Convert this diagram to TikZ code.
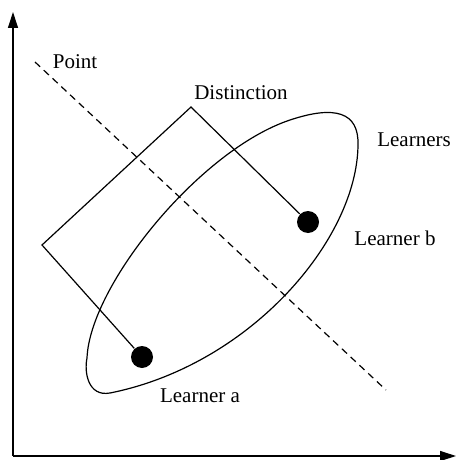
\documentclass[tikz,border=0pt]{standalone}
\usepackage{fontspec}
\setmainfont{Liberation Serif}
\usetikzlibrary{arrows.meta}

\begin{document}
\begin{tikzpicture}[x=0.5pt,y=-0.5pt,>={Triangle[length=8pt,width=5pt]},line width=0.6pt,
  lbl/.style={font=\fontsize{10.5}{12}\selectfont,inner sep=0pt},
  dot/.style={circle,fill,inner sep=0pt,minimum size=11pt}]
\useasboundingbox (0,0) rectangle (456,460);
% axes
\coordinate (origin) at (13,456);\coordinate (ytip) at (13,12);\coordinate (xtip) at (456,456);
\draw[->] (origin)--(ytip);\draw[->] (origin)--(xtip);
% point line
\coordinate (pstart) at (35,62);\coordinate (pend) at (386,390);
\draw[dashed,dash pattern=on 3.5pt off 2.5pt] (pstart)--(pend);
\node[lbl] (point) at (75,62) {Point};
% learners
\draw (358,145) .. controls (357,240) and (250,365) .. (110,393) .. controls (88,397) and (84,372) .. (87,358)
  .. controls (90,285) and (200,150) .. (290,120) .. controls (335,105) and (359,112) .. cycle;
\node[lbl] (learners) at (414,140) {Learners};
\node[dot] (la) at (142,357) {};\node[dot] (lb) at (308,222) {};
\node[lbl] (lablea) at (200,396) {Learner a};
\node[lbl] (lableb) at (395,238) {Learner b};
% distinction
\coordinate (dleft) at (42,245);\coordinate (dtop) at (191,107);
\draw (la)--(dleft)--(dtop)--(lb);
\node[lbl] (dist) at (241,93) {Distinction};
\end{tikzpicture}
\end{document}
